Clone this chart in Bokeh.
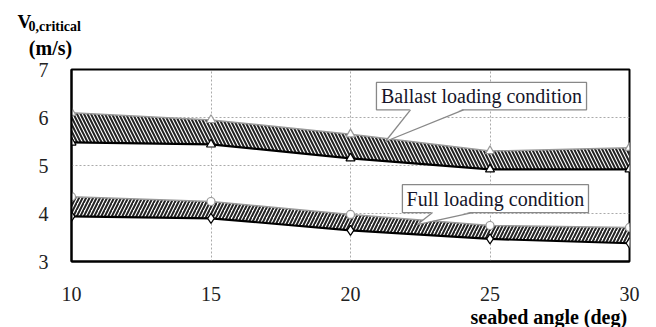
from bokeh.plotting import figure
from bokeh.models import Label, FixedTicker, Range1d, Title
from bokeh.embed import file_html
from bokeh.resources import INLINE

angles = [10, 15, 20, 25, 30]
ballast_upper = [6.10, 5.95, 5.65, 5.30, 5.37]
ballast_lower = [5.48, 5.44, 5.15, 4.92, 4.92]
full_upper = [4.35, 4.25, 3.98, 3.75, 3.71]
full_lower = [3.94, 3.90, 3.65, 3.47, 3.38]
x_ticks = [10, 15, 20, 25, 30]
y_ticks = [3, 4, 5, 6, 7]

SERIF = "Liberation Serif"

p = figure(width=648, height=327, output_backend="svg", toolbar_location=None,
           x_range=Range1d(10, 30), y_range=Range1d(3, 7),
           min_border_left=71, min_border_right=19, min_border_top=69, min_border_bottom=65)
p.background_fill_color = "white"
p.border_fill_color = "white"
p.outline_line_color = "black"
p.outline_line_width = 2

for ax in (p.xaxis, p.yaxis):
    ax.major_tick_line_color = None
    ax.minor_tick_line_color = None
    ax.axis_line_color = "black"
    ax.axis_line_width = 2
    ax.major_label_text_font = SERIF
    ax.major_label_text_font_size = "20px"
    ax.major_label_text_color = "#222222"
p.xaxis.ticker = FixedTicker(ticks=x_ticks)
p.yaxis.ticker = FixedTicker(ticks=y_ticks)
p.xaxis.major_label_standoff = 19
p.yaxis.major_label_standoff = 17

for g in (p.xgrid, p.ygrid):
    g.grid_line_color = "#aaaaaa"
    g.grid_line_dash = "2 2"
    g.grid_line_width = 1

p.varea(x=angles, y1=ballast_lower, y2=ballast_upper, fill_color="white",
        hatch_pattern="\\", hatch_color="#222222", hatch_scale=7, hatch_weight=2)
p.varea(x=angles, y1=full_lower, y2=full_upper, fill_color="white",
        hatch_pattern="/", hatch_color="#222222", hatch_scale=7, hatch_weight=2)

p.line(angles, ballast_upper, line_color="#9a9a9a", line_width=1.5)
p.line(angles, ballast_lower, line_color="black", line_width=2.2)
p.line(angles, full_upper, line_color="#9a9a9a", line_width=1.5)
p.line(angles, full_lower, line_color="black", line_width=2.2)

p.scatter(angles, ballast_upper, marker="triangle", size=9, fill_color="white", line_color="#999999", line_width=1.2)
p.scatter(angles, ballast_lower, marker="triangle", size=9, fill_color="white", line_color="black", line_width=1.2)
p.scatter(angles, full_upper, marker="circle", size=8, fill_color="white", line_color="#999999", line_width=1.2)
p.scatter(angles, full_lower, marker="diamond", size=10, fill_color="white", line_color="black", line_width=1.2)

callouts = [
    dict(text="Ballast loading condition", left=20.93, right=28.46, bottom=6.16, top=6.73,
         base=(22.15, 24.05), tip=(21.25, 5.5)),
    dict(text="Full loading condition", left=21.86, right=28.53, bottom=4.02, top=4.60,
         base=(22.94, 24.37), tip=(22.40, 3.77)),
]
for c in callouts:
    p.quad(left=[c["left"]], right=[c["right"]], bottom=[c["bottom"]], top=[c["top"]],
           fill_color="white", line_color="#888888", line_width=1.3)
    p.patch([c["base"][0], c["tip"][0], c["base"][1]], [c["bottom"] + 0.02, c["tip"][1], c["bottom"] + 0.02],
            fill_color="white", line_color=None)
    p.multi_line(xs=[[c["base"][0], c["tip"][0]], [c["base"][1], c["tip"][0]]],
                 ys=[[c["bottom"], c["tip"][1]], [c["bottom"], c["tip"][1]]],
                 line_color="#888888", line_width=1.3)
    p.add_layout(Label(x=(c["left"] + c["right"]) / 2, y=(c["bottom"] + c["top"]) / 2, text=c["text"],
                       text_align="center", text_baseline="middle", text_font=SERIF,
                       text_font_size="20px", text_color="#15152a"))

# x-axis title, bottom right
p.add_layout(Title(text="seabed angle (deg)", align="left", offset=399, text_font=SERIF,
                   text_font_style="bold", text_font_size="20px", text_color="black", standoff=0), "below")

# y-axis titles, placed in the top panel
def top_label(text, x, y, size, align="left"):
    p.add_layout(Label(x=x, y=y, x_units="screen", y_units="screen", text=text, text_font=SERIF,
                       text_font_style="bold", text_font_size=size, text_color="black",
                       text_align=align, text_baseline="alphabetic"), "above")

top_label("V", -54, 48, "19px")
top_label("0,critical", -43, 22, "14px")
top_label("(m/s)", -21, -14, "20px", align="center")

open("out.html", "w").write(file_html(p, INLINE))
